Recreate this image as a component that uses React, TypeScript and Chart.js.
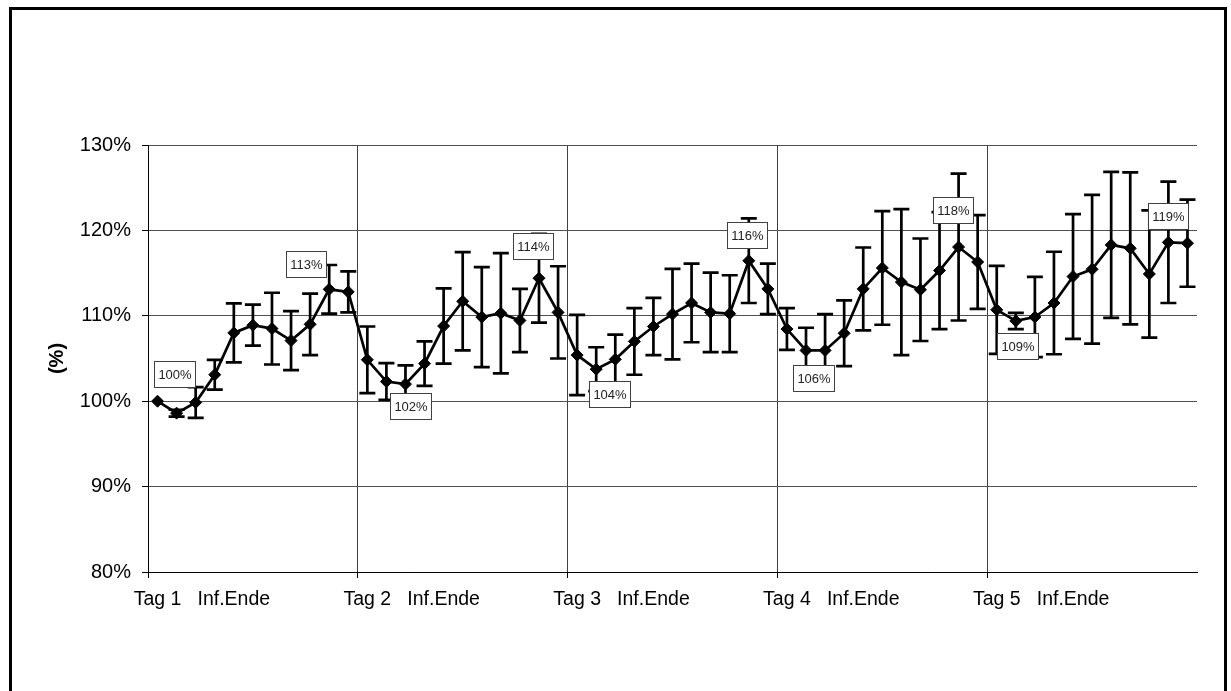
import React, { useEffect, useRef } from "react";
import { Chart, registerables } from "chart.js";

Chart.register(...registerables);

// ---- data ----
const dayNames = ["Tag 1", "Tag 2", "Tag 3", "Tag 4", "Tag 5"];
const infusionEndLabel = "Inf.Ende";
const pointsPerDay = 11;
const infusionEndIndex = 4;

const meanValues = [
  100.0, 98.6, 99.85, 103.1, 108.0, 108.9, 108.5, 107.1, 109.0, 113.1, 112.8,
  104.85, 102.3, 102.0, 104.4, 108.8, 111.7, 109.85, 110.3, 109.45, 114.4, 110.4,
  105.4, 103.75, 104.9, 107.0, 108.75, 110.2, 111.5, 110.4, 110.25, 116.45, 113.15,
  108.45, 105.95, 105.95, 107.95, 113.15, 115.6, 113.95, 113.05, 115.3, 118.05, 116.3,
  110.7, 109.4, 109.85, 111.5, 114.6, 115.45, 118.3, 117.9, 114.9, 118.6, 118.5,
];

const errorValues = [
  0, 0.4, 1.8, 1.75, 3.45, 2.4, 4.2, 3.45, 3.6, 2.85, 2.4,
  3.9, 2.15, 2.2, 2.6, 4.4, 5.75, 5.85, 7.05, 3.7, 5.2, 5.4,
  4.7, 2.57, 2.9, 3.9, 3.35, 5.3, 4.6, 4.65, 4.5, 4.95, 2.95,
  2.45, 2.65, 4.25, 3.85, 4.85, 6.65, 8.55, 6.0, 6.85, 8.6, 5.5,
  5.15, 0.95, 4.7, 6.0, 7.3, 8.7, 8.55, 8.9, 7.45, 7.1, 5.1,
];

const labeledIndices = [0, 9, 13, 20, 23, 31, 34, 42, 45, 53];

const yTickMin = 80;
const yTickMax = 130;
const yTickStep = 10;
const yAxisTitle = "(%)";

// ---- style (label box offsets relative to point, px) ----
const labelOffsets: [number, number][] = [
  [17, -27], [-23, -25], [5, 22], [-6, -32], [13, 25],
  [-2, -26], [7, 28], [-6, -37], [2, 25], [0, -26],
];

const categories: string[] = [];
dayNames.forEach((day) => {
  for (let i = 0; i < pointsPerDay; i++) {
    if (i === 0) categories.push(day);
    else if (i === infusionEndIndex) categories.push(infusionEndLabel);
    else categories.push("");
  }
});

const FONT = "'Liberation Sans', Arial, sans-serif";

const errorBarPlugin = {
  id: "errorBars",
  beforeDatasetsDraw(chart: any) {
    const meta = chart.getDatasetMeta(0);
    const yScale = chart.scales.y;
    const ctx = chart.ctx;
    ctx.save();
    ctx.strokeStyle = "#000";
    ctx.lineWidth = 2.7;
    meta.data.forEach((pt: any, i: number) => {
      const e = errorValues[i];
      if (!e) return;
      const x = pt.x;
      const top = yScale.getPixelForValue(meanValues[i] + e);
      const bot = yScale.getPixelForValue(meanValues[i] - e);
      ctx.beginPath();
      ctx.moveTo(x, top);
      ctx.lineTo(x, bot);
      ctx.moveTo(x - 8, top);
      ctx.lineTo(x + 8, top);
      ctx.moveTo(x - 8, bot);
      ctx.lineTo(x + 8, bot);
      ctx.stroke();
    });
    ctx.restore();
  },
};

const valueLabelPlugin = {
  id: "valueLabels",
  afterDatasetsDraw(chart: any) {
    const meta = chart.getDatasetMeta(0);
    const ctx = chart.ctx;
    ctx.save();
    ctx.font = `13px ${FONT}`;
    ctx.textAlign = "center";
    ctx.textBaseline = "middle";
    labeledIndices.forEach((idx, k) => {
      const pt = meta.data[idx];
      if (!pt) return;
      const text = Math.round(meanValues[idx]) + "%";
      const tw = ctx.measureText(text).width;
      const w = Math.round(tw + 8);
      const h = 26;
      const cx = pt.x + labelOffsets[k][0];
      const cy = pt.y + labelOffsets[k][1];
      const x0 = Math.round(cx - w / 2) + 0.5;
      const y0 = Math.round(cy - h / 2) + 0.5;
      ctx.fillStyle = "#fff";
      ctx.fillRect(x0, y0, w, h);
      ctx.strokeStyle = "#404040";
      ctx.lineWidth = 1;
      ctx.strokeRect(x0, y0, w, h);
      ctx.fillStyle = "#222";
      ctx.fillText(text, x0 + w / 2, y0 + h / 2 + 0.5);
    });
    ctx.restore();
  },
};

export default function App() {
  const canvasRef = useRef<HTMLCanvasElement | null>(null);

  useEffect(() => {
    if (!canvasRef.current) return;
    const chart = new Chart(canvasRef.current, {
      type: "line",
      data: {
        labels: categories,
        datasets: [
          {
            data: meanValues,
            borderColor: "#000",
            backgroundColor: "#000",
            borderWidth: 2.7,
            pointStyle: "rectRot",
            pointRadius: 6,
            pointBorderWidth: 1,
            pointBackgroundColor: "#000",
            pointBorderColor: "#000",
            tension: 0,
          },
        ],
      },
      options: {
        responsive: false,
        animation: false,
        events: [],
        layout: { padding: { left: 0, top: 145, right: 34, bottom: 0 } },
        plugins: {
          legend: { display: false },
          tooltip: { enabled: false },
          title: { display: false },
        },
        scales: {
          x: {
            type: "category",
            offset: true,
            afterFit: (scale: any) => {
              scale.height = 119;
            },
            grid: {
              offset: true,
              color: (c: any) => (c.index % pointsPerDay === 0 ? "#404040" : "rgba(0,0,0,0)"),
              tickColor: (c: any) => (c.index % pointsPerDay === 0 ? "#000" : "rgba(0,0,0,0)"),
              tickLength: 6,
              lineWidth: 1,
            },
            border: { display: true, color: "#000", width: 1 },
            ticks: {
              autoSkip: false,
              maxRotation: 0,
              minRotation: 0,
              padding: 10,
              color: "#000",
              font: { family: FONT, size: 19.5 },
            },
          },
          y: {
            min: yTickMin,
            max: yTickMax,
            afterFit: (scale: any) => {
              scale.width = 148;
            },
            grid: {
              color: "#505050",
              tickColor: "#000",
              tickLength: 6,
              lineWidth: 1,
            },
            border: { display: true, color: "#000", width: 1 },
            ticks: {
              stepSize: yTickStep,
              padding: 11,
              color: "#000",
              font: { family: FONT, size: 20 },
              callback: (v: any) => v + "%",
            },
            title: {
              display: true,
              text: yAxisTitle,
              color: "#000",
              font: { family: FONT, size: 20, weight: "bold" },
              padding: { top: 45, bottom: 0 },
            },
          },
        },
      },
      plugins: [errorBarPlugin, valueLabelPlugin],
    });
    return () => chart.destroy();
  }, []);

  return (
    <div style={{ position: "fixed", left: 0, top: 0, width: 1231, height: 691, overflow: "hidden", background: "#fff" }}>
      <div
        style={{
          position: "absolute",
          left: 9,
          top: 7,
          width: 1218,
          height: 800,
          boxSizing: "border-box",
          border: "3px solid #000",
        }}
      />
      <canvas
        ref={canvasRef}
        width={1231}
        height={691}
        style={{ position: "absolute", left: 0, top: 0, width: 1231, height: 691, display: "block" }}
      />
    </div>
  );
}
